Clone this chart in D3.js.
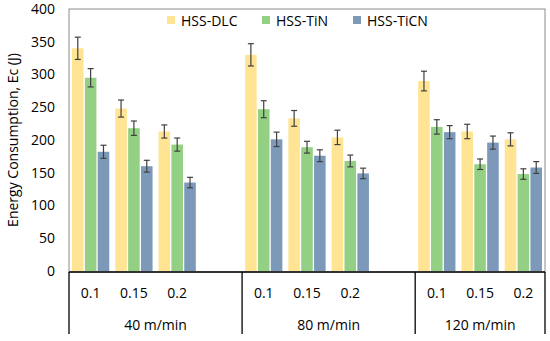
<!DOCTYPE html>
<html><head><meta charset="utf-8">
<script src="https://cdn.jsdelivr.net/npm/d3@7"></script>
<style>
body{margin:0;background:#fff;}
text{font-family:"Open Sans",sans-serif;fill:#000;}
</style></head>
<body><svg id="c" width="550" height="341"></svg>
<script>
const speeds = ["40 m/min", "80 m/min", "120 m/min"];
const feeds = ["0.1", "0.15", "0.2"];
const seriesNames = ["HSS-DLC", "HSS-TiN", "HSS-TiCN"];
const seriesColors = ["#FFE593", "#93D083", "#7C99B9"];
const dlcValues  = [340, 248, 213, 330, 233, 204, 290, 213, 201];
const tinValues  = [295, 218, 193, 247, 189, 168, 220, 163, 148];
const ticnValues = [182, 160, 135, 201, 176, 149, 212, 196, 158];
const dlcErr  = [17, 13, 10, 17, 12, 11, 15, 11, 10];
const tinErr  = [14, 11, 10, 13, 9, 9, 11, 8, 8];
const ticnErr = [10, 9, 8, 11, 9, 8, 10, 10, 9];
const yTicks = [0, 50, 100, 150, 200, 250, 300, 350, 400];
const yTitle = "Energy Consumption, Ec (J)";

const values = [dlcValues, tinValues, ticnValues];
const errs = [dlcErr, tinErr, ticnErr];

const svg = d3.select("#c");
const L = 69, R = 545, T = 9, B = 271;

// slots: 3 feeds per speed, a blank slot between speed groups
const slots = [];
speeds.forEach((s, si) => {
  feeds.forEach((f, fi) => slots.push({key: s + "|" + f, speed: si, feed: f, idx: si * 3 + fi}));
  if (si < speeds.length - 1) slots.push({key: "gap" + si, blank: true, speed: si});
});

const x = d3.scaleBand().domain(slots.map(d => d.key)).range([L, R]).padding(0);
const xs = d3.scaleBand().domain(seriesNames).range([3, x.bandwidth() - 3]).paddingInner(0.1);
const y = d3.scaleLinear().domain([0, 400]).range([B, T]);

// plot border
svg.append("rect").attr("x", L).attr("y", T).attr("width", R - L).attr("height", B - T + 1)
  .attr("fill", "none").attr("stroke", "#8c8c8c").attr("stroke-width", 1);

// bars
const barData = [];
slots.filter(d => !d.blank).forEach(d => {
  seriesNames.forEach((sn, k) => {
    barData.push({slot: d.key, s: sn, k, v: values[k][d.idx], e: errs[k][d.idx]});
  });
});
svg.append("g").selectAll("rect").data(barData).join("rect")
  .attr("x", d => x(d.slot) + xs(d.s))
  .attr("y", d => y(d.v))
  .attr("width", xs.bandwidth())
  .attr("height", d => y(0) - y(d.v))
  .attr("fill", d => seriesColors[d.k]);

// error bars
const eg = svg.append("g").attr("stroke", "#404040").attr("stroke-width", 1.2);
barData.forEach(d => {
  const cx = x(d.slot) + xs(d.s) + xs.bandwidth() / 2;
  eg.append("line").attr("x1", cx).attr("x2", cx).attr("y1", y(d.v + d.e)).attr("y2", y(d.v - d.e));
  eg.append("line").attr("x1", cx - 3).attr("x2", cx + 3).attr("y1", y(d.v + d.e)).attr("y2", y(d.v + d.e));
  eg.append("line").attr("x1", cx - 3).attr("x2", cx + 3).attr("y1", y(d.v - d.e)).attr("y2", y(d.v - d.e));
});

// y axis labels
const yAxis = d3.axisLeft(y).tickValues(yTicks).tickSize(0).tickPadding(14);
const ya = svg.append("g").attr("transform", `translate(${L},0)`).call(yAxis);
ya.select(".domain").remove();
ya.selectAll("text").style("font-family", '"Open Sans",sans-serif').style("font-size", "14px").attr("fill", "#000");

// category axis
svg.append("line").attr("x1", L).attr("x2", R).attr("y1", B + 1).attr("y2", B + 1)
  .attr("stroke", "#000").attr("stroke-width", 1.3);
const groupEdges = [L];
speeds.forEach((s, si) => {
  const inGroup = slots.filter(d => d.speed === si);
  const last = inGroup[inGroup.length - 1];
  groupEdges.push(x(last.key) + x.bandwidth());
});
groupEdges.forEach(gx => {
  svg.append("line").attr("x1", gx).attr("x2", gx).attr("y1", B + 1).attr("y2", 334)
    .attr("stroke", "#000").attr("stroke-width", 1.3);
});
svg.append("g").selectAll("text").data(slots.filter(d => !d.blank)).join("text")
  .attr("x", d => x(d.key) + x.bandwidth() / 2).attr("y", 298)
  .attr("text-anchor", "middle").style("font-size", "14px").text(d => d.feed);
speeds.forEach((s, si) => {
  svg.append("text").attr("x", (groupEdges[si] + groupEdges[si + 1]) / 2).attr("y", 330)
    .attr("text-anchor", "middle").style("font-size", "14px").text(s);
});

// y title
svg.append("text").attr("transform", `translate(18,${(T + B) / 2}) rotate(-90)`)
  .attr("text-anchor", "middle").style("font-size", "14px").text(yTitle);

// legend
const legendX = [167, 262, 353];
seriesNames.forEach((sn, k) => {
  svg.append("rect").attr("x", legendX[k]).attr("y", 16).attr("width", 8).attr("height", 8).attr("fill", seriesColors[k]);
  svg.append("text").attr("x", legendX[k] + 14).attr("y", 25.5).style("font-size", "14px").text(sn);
});
</script></body></html>
